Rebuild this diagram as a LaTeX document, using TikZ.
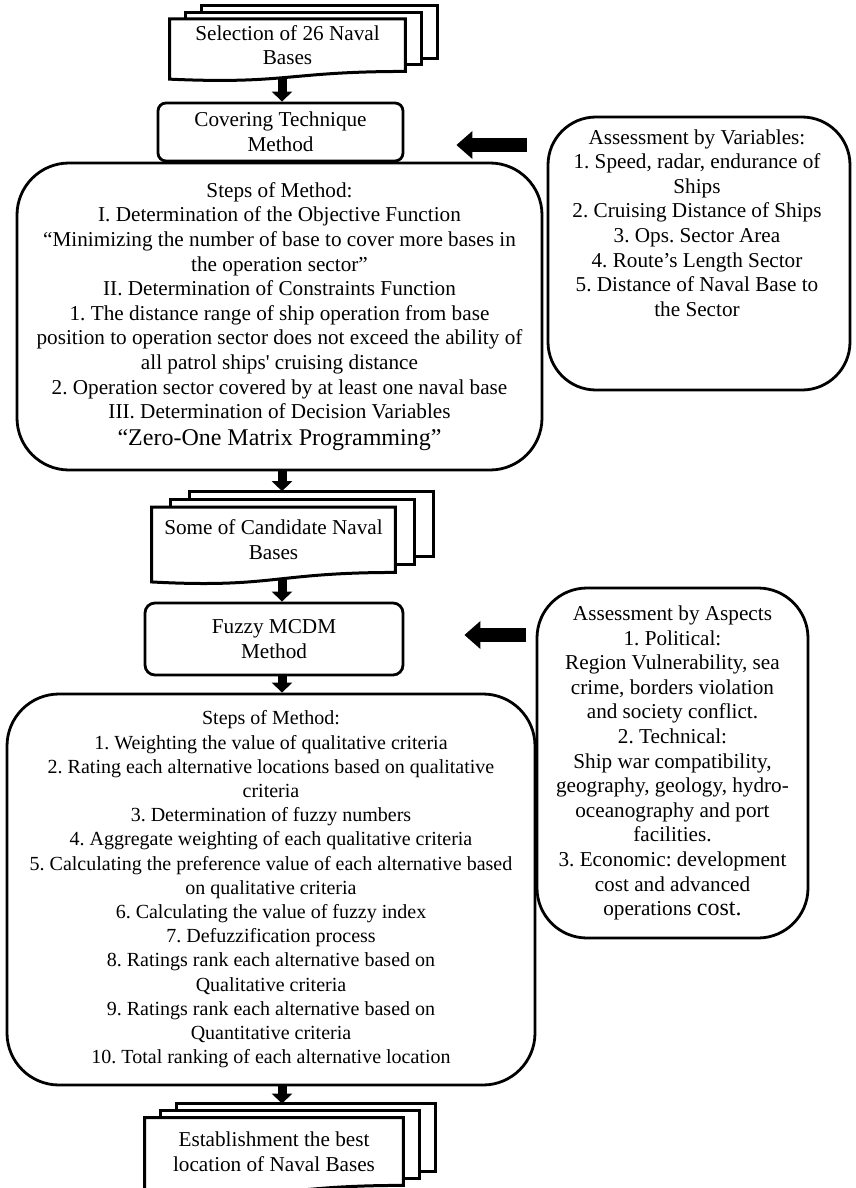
\documentclass[tikz,border=0pt]{standalone}
\usepackage{fontspec}
\setmainfont{Liberation Serif}[Ligatures=TeXOff]
\usetikzlibrary{arrows.meta,calc}
\pgfdeclarelayer{bg}
\pgfdeclarelayer{mid}
\pgfsetlayers{bg,mid,main}

\tikzset{
  txt/.style={font=\fontsize{10.6}{12.3}\selectfont, align=center, inner sep=0pt},
  smalltxt/.style={font=\fontsize{10}{12.1}\selectfont},
  box/.style={txt, draw, line width=1.4pt},
  docline/.style={line width=1.5pt, line join=miter},
  downarr/.style={line width=4.5pt, -{Triangle[length=5pt,width=10pt]}},
  sidearr/.style={line width=7pt, -{Triangle[length=8pt,width=13.5pt]}},
}

% #1 node name, #2 sx, #3 sy, #4 left wave drop, #5 wave control drop (all px)
\newcommand{\multidocshape}[5]{%
  \coordinate (#1-top) at ($(#1.north)+(0,-2*#3)$);
  \begin{pgfonlayer}{mid}
  \draw[docline] ($(#1.north west)+(2*#2,-#3)$) -- ($(#1.north west)+(2*#2,-2*#3)$)
     -- ($(#1.north east)+(2*#2,-2*#3)$) -- ($(#1.south east)+(2*#2,-2*#3)$)
     -- ($(#1.south east)+(#2,-2*#3)$);
  \draw[docline] ($(#1.north west)+(#2,0)$) -- ($(#1.north west)+(#2,-#3)$)
     -- ($(#1.north east)+(#2,-#3)$) -- ($(#1.south east)+(#2,-#3)$)
     -- ($(#1.south east)+(0,-#3)$);
  \draw[docline, fill=white] (#1.north west) -- (#1.north east) -- (#1.south east)
     .. controls (#1.south) and ($(#1.south)+(0,#5)$) .. ($(#1.south west)+(0,#4)$) -- cycle;
  \end{pgfonlayer}}

\begin{document}
\frenchspacing
\begin{tikzpicture}[x=0.5pt, y=-0.5pt]
\useasboundingbox (0,0) rectangle (856,1188);
\begin{pgfonlayer}{bg}
\fill[white] (0,0) rectangle (856,1188);
\end{pgfonlayer}

% multi-document nodes
\node[txt, minimum width=117.5pt, minimum height=25.85pt] (md1) at (287.5,45.2) {Selection of 26 Naval\\Bases};
\multidocshape{md1}{16}{6.5}{7.7}{13}

\node[txt, minimum width=121.5pt, minimum height=32.25pt] (md2) at (273.5,539.8) {Some of Candidate Naval\\Bases};
\multidocshape{md2}{19}{8}{9.5}{16}

\node[txt, minimum width=129pt, minimum height=33.5pt] (md3) at (274,1151.5) {Establishment the best\\location of Naval Bases};
\multidocshape{md3}{16}{7}{10}{17}

% process boxes
\node[box, rounded corners=4pt, minimum width=122.5pt, minimum height=29pt] (cover) at (280.5,132) {Covering Technique\\Method};

\node[box, rounded corners=26pt, minimum width=262.5pt, minimum height=153.5pt] (big1) at (279.5,316.5) {Steps of Method:\\
I. Determination of the Objective Function\\
“Minimizing the number of base to cover more bases in\\
the operation sector”\\
II. Determination of Constraints Function\\
1. The distance range of ship operation from base\\
position to operation sector does not exceed the ability of\\
all patrol ships' cruising distance\\
2. Operation sector covered by at least one naval base\\
III. Determination of Decision Variables\\[1pt]
{\fontsize{12}{14}\selectfont “Zero-One Matrix Programming”}};

\node[box, rounded corners=24pt, minimum width=151pt, minimum height=136.5pt] (rbox1) at (699,253.5) {};
\node[txt, anchor=north] (rbox1t) at (697,129) {Assessment by Variables:\\
1. Speed, radar, endurance of\\
Ships\\
2. Cruising Distance of Ships\\
3. Ops. Sector Area\\
4. Route’s Length Sector\\
5. Distance of Naval Base to\\
the Sector};

\node[box, rounded corners=5pt, minimum width=129pt, minimum height=36pt] (fuzzy) at (274,639) {Fuzzy MCDM\\Method};

\node[box, rounded corners=25pt, minimum width=135.5pt, minimum height=175pt] (rbox2) at (672.5,763) {Assessment by Aspects\\
1. Political:\\
Region Vulnerability, sea\\
crime, borders violation\\
and society conflict.\\
2. Technical:\\
Ship war compatibility,\\
geography, geology, hydro-\\
oceanography and port\\
facilities.\\
3. Economic: development\\
cost and advanced\\
operations {\fontsize{12}{14}\selectfont cost.}};

\node[box, smalltxt, rounded corners=26pt, minimum width=264pt, minimum height=195.5pt] (big2) at (271,889.5) {Steps of Method:\\
1. Weighting the value of qualitative criteria\\
2. Rating each alternative locations based on qualitative\\
criteria\\
3. Determination of fuzzy numbers\\
4. Aggregate weighting of each qualitative criteria\\
5. Calculating the preference value of each alternative based\\
on qualitative criteria\\
6. Calculating the value of fuzzy index\\
7. Defuzzification process\\
8. Ratings rank each alternative based on\\
Qualitative criteria\\
9. Ratings rank each alternative based on\\
Quantitative criteria\\
10. Total ranking of each alternative location};

% connectors
\begin{pgfonlayer}{bg}
\draw[downarr] (md1.south -| 282,0) -- (cover.north -| 282,0);
\draw[downarr] (big1.south -| 282,0) -- (md2-top -| 282,0);
\draw[downarr] (md2.south -| 282,0) -- (fuzzy.north -| 282,0);
\draw[downarr] (fuzzy.south -| 282,0) -- (big2.north -| 282,0);
\draw[downarr] (big2.south -| 282,0) -- (md3-top -| 282,0);
\draw[sidearr, shorten <=10pt, shorten >=26pt] (rbox1.west |- 0,145) -- (cover.east |- 0,145);
\draw[sidearr, shorten <=5pt, shorten >=30pt] (rbox2.west |- 0,635) -- (fuzzy.east |- 0,635);
\end{pgfonlayer}
\end{tikzpicture}
\end{document}
